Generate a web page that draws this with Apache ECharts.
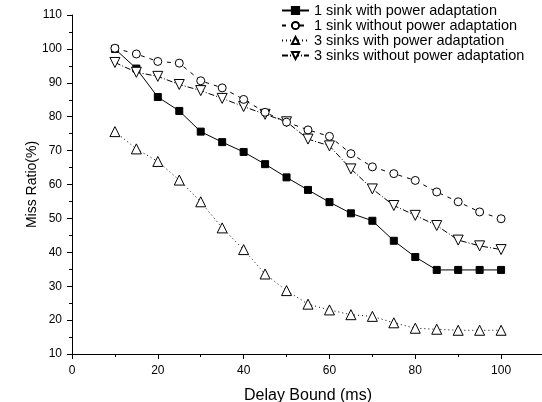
<!DOCTYPE html>
<html>
<head>
<meta charset="utf-8">
<script src="https://cdn.jsdelivr.net/npm/echarts@6/dist/echarts.min.js"></script>
<style>html,body{margin:0;padding:0;background:#fff}#c{width:542px;height:402px}</style>
</head>
<body>
<div id="c"></div>
<script>
const delays = [10,15,20,25,30,35,40,45,50,55,60,65,70,75,80,85,90,95,100];
const oneSinkPower   = [100,94.2,85.8,81.7,75.6,72.5,69.6,66.0,62.1,58.4,54.8,51.5,49.3,43.4,38.6,34.8,34.8,34.8,34.8];
const oneSinkNoPower = [100.2,98.5,96.3,95.8,90.6,88.5,85.1,81.3,78.4,76.1,74.2,69.1,65.2,63.2,61.2,57.8,54.9,51.9,49.9];
const threeSinkPower = [75.6,70.5,66.8,61.3,54.9,47.2,40.8,33.6,28.7,24.7,23.0,21.6,21.1,19.2,17.6,17.3,17.0,17.0,17.0];
const threeSinkNoPower = [96.0,93.1,91.9,89.5,87.7,85.4,83.0,80.7,78.5,73.4,71.4,64.6,58.7,53.8,50.9,47.9,43.6,41.9,40.8];
const seriesNames = ['1 sink with power adaptation','1 sink without power adaptation','3 sinks with power adaptation','3 sinks without power adaptation'];
const xTitle = 'Delay Bound (ms)';
const yTitle = 'Miss Ratio(%)';

const pair = arr => delays.map((d,i)=>[d,arr[i]]);
const font = 'Liberation Sans, Arial, sans-serif';
const mk = (name, data, symbol, size, fill, type, z) => ({
  name, type:'line', data: pair(data), symbol, symbolSize: size, z,
  lineStyle:{color:'#000', width:1, type},
  itemStyle:{color: fill, borderColor:'#000', borderWidth:1},
  emphasis:{disabled:true}, animation:false
});
const chart = echarts.init(document.getElementById('c'), null, {renderer:'canvas'});
chart.setOption({
  backgroundColor:'#fff',
  animation:false,
  grid:{left:72, top:15, bottom:48, right:-2, containLabel:false, outerBoundsMode:'none'},
  legend:{
    orient:'vertical', left:281, top:3, padding:0, itemWidth:27, itemHeight:9, itemGap:0,
    textStyle:{fontFamily:font, fontSize:14.5, color:'#000'},
    data: seriesNames
  },
  xAxis:{
    type:'value', min:0, max:110, interval:20,
    name:xTitle, nameLocation:'middle', nameGap:34, nameMoveOverlap:false,
    nameTextStyle:{fontFamily:font, fontSize:16, color:'#000'},
    axisLine:{show:true, onZero:false, lineStyle:{color:'#000', width:1}},
    axisTick:{show:true, inside:false, length:5, lineStyle:{color:'#000'}},
    minorTick:{show:true, splitNumber:2, length:3, lineStyle:{color:'#000'}},
    axisLabel:{fontFamily:font, fontSize:12, color:'#000', margin:11,
      formatter: v => (v>100 ? '' : String(v))},
    splitLine:{show:false}
  },
  yAxis:{
    type:'value', min:10, max:110, interval:10,
    name:yTitle, nameLocation:'middle', nameGap:33, nameMoveOverlap:false,
    nameTextStyle:{fontFamily:font, fontSize:14, color:'#000'},
    axisLine:{show:true, onZero:false, lineStyle:{color:'#000', width:1}},
    axisTick:{show:true, inside:false, length:5, lineStyle:{color:'#000'}},
    minorTick:{show:true, splitNumber:2, length:3, lineStyle:{color:'#000'}},
    axisLabel:{fontFamily:font, fontSize:12, color:'#000', margin:10},
    splitLine:{show:false}
  },
  series:[
    mk(seriesNames[0], oneSinkPower, 'rect', 7, '#000', 'solid', 2),
    mk(seriesNames[1], oneSinkNoPower, 'circle', 8, '#fff', [4,5], 3),
    mk(seriesNames[2], threeSinkPower, 'triangle', 10, '#fff', [1,3], 2),
    mk(seriesNames[3], threeSinkNoPower, 'path://M0,0 L10,0 L5,9 Z', 10, '#fff', [6,2,1,2], 2)
  ]
});
</script>
</body>
</html>
